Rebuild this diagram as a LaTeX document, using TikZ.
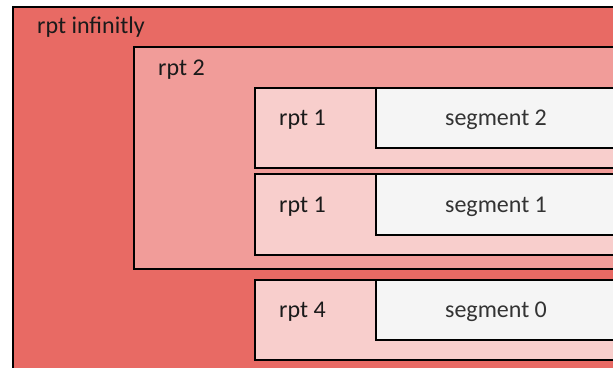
\documentclass[tikz,border=0pt]{standalone}
\usepackage{fontspec}
\setmainfont{Carlito}
\definecolor{cOuter}{HTML}{E86A64}
\definecolor{cMid}{HTML}{F19C99}
\definecolor{cInner}{HTML}{F8CECC}
\definecolor{cSeg}{HTML}{F5F5F5}
\definecolor{cSegText}{HTML}{333333}
\definecolor{cLabText}{HTML}{1A1A1A}
\begin{document}
\begin{tikzpicture}[x=1pt,y=-1pt,
  box/.style={draw=black,line width=1.5pt,inner sep=0pt,outer sep=0pt,anchor=north west},
  lab/.style={anchor=base west,inner sep=0pt,font=\fontsize{24}{28}\selectfont,text=cLabText},
  seglab/.style={anchor=base,inner sep=0pt,font=\fontsize{24}{28}\selectfont,text=cSegText}]
\useasboundingbox (0,0) rectangle (613,367);
\clip (0,0) rectangle (613,367);
\fill[white] (0,0) rectangle (613,367);
\node[box,fill=cOuter,minimum width=700pt,minimum height=400pt] (outer) at (13,7) {};
\node[box,fill=cMid,minimum width=600pt,minimum height=222pt] (rptB) at (134,47) {};
\node[box,fill=cInner,minimum width=480pt,minimum height=80pt] (rptA1) at (255,88) {};
\node[box,fill=cSeg,minimum width=360pt,minimum height=60pt] (seg2) at (376,88) {};
\node[box,fill=cInner,minimum width=480pt,minimum height=81pt] (rptA2) at (255,174) {};
\node[box,fill=cSeg,minimum width=360pt,minimum height=61pt] (seg1) at (376,174) {};
\node[box,fill=cInner,minimum width=480pt,minimum height=80pt] (rptD) at (255,280) {};
\node[box,fill=cSeg,minimum width=360pt,minimum height=60pt] (seg0) at (376,280) {};
\node[lab] (lOuter) at (37,33) {rpt infinitly};
\node[lab] (lB) at (158,75) {rpt 2};
\node[lab] (lA1) at (279,125) {rpt 1};
\node[lab] (lA2) at (279,212) {rpt 1};
\node[lab] (lD) at (279,317) {rpt 4};
\node[seglab] (ls2) at (496,125) {segment 2};
\node[seglab] (ls1) at (496,212) {segment 1};
\node[seglab] (ls0) at (496,317) {segment 0};
\end{tikzpicture}
\end{document}
